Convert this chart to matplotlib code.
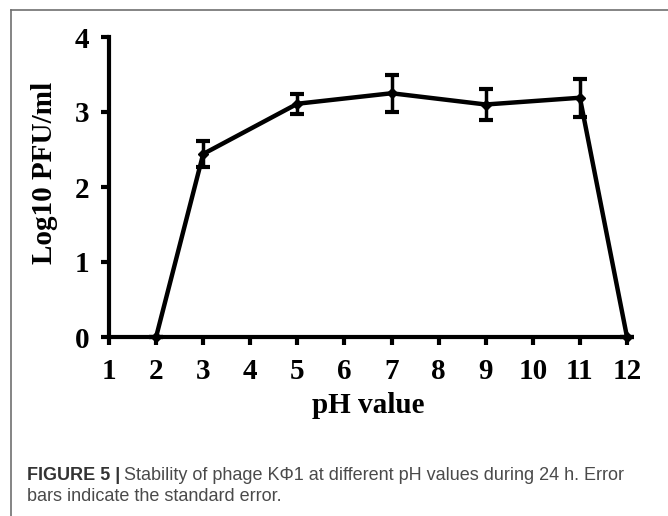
import matplotlib
matplotlib.use("Agg")
import matplotlib.pyplot as plt
from matplotlib.lines import Line2D

ph = [2, 3, 5, 7, 9, 11, 12]
log_pfu = [0.0, 2.44, 3.11, 3.25, 3.10, 3.19, 0.0]
err = [0.0, 0.17, 0.13, 0.25, 0.20, 0.25, 0.0]
xticks = list(range(1, 13))
yticks = [0, 1, 2, 3, 4]

W, H = 668, 516
fig = plt.figure(figsize=(W / 100, H / 100), dpi=100)

serif = "Liberation Serif"

ax = fig.add_axes([109 / W, 1 - 337 / H, (627 - 109) / W, (337 - 37) / H])
ax.errorbar(ph, log_pfu, yerr=err, color="black", lw=3.2, marker="D", ms=5,
            elinewidth=2.5, capsize=5, capthick=3, clip_on=False, zorder=3)
ax.set_xlim(1, 12)
ax.set_ylim(0, 4)
ax.set_xticks(xticks)
ax.set_yticks(yticks)
for s in ["top", "right"]:
    ax.spines[s].set_visible(False)
for s in ["left", "bottom"]:
    ax.spines[s].set_linewidth(3)
ax.tick_params(axis="both", width=3, length=6, direction="out")
ax.tick_params(axis="x", pad=9)
ax.tick_params(axis="y", pad=8)
for lab in ax.get_xticklabels() + ax.get_yticklabels():
    lab.set_fontfamily(serif)
    lab.set_fontweight("bold")
    lab.set_fontsize(21)

ax.set_xlabel("pH value", fontfamily=serif, fontweight="bold", fontsize=21)
ax.xaxis.set_label_coords(0.5, -(392 - 337) / 300)
ax.set_ylabel("Log10 PFU/ml", fontfamily=serif, fontweight="bold", fontsize=21)
ax.yaxis.set_label_coords(-(109 - 58) / 518, (337 - 173) / 300)

# frame
fig.add_artist(Line2D([11 / W, 11 / W], [0, 1 - 10 / H], transform=fig.transFigure,
                      color="#707070", lw=1.2))
fig.add_artist(Line2D([11 / W, 1], [1 - 10 / H, 1 - 10 / H], transform=fig.transFigure,
                      color="#707070", lw=1.2))

# caption
sans = "Liberation Sans"
t1 = fig.text(27 / W, 1 - 480 / H, "FIGURE 5 |", fontfamily=sans, fontweight="bold",
              fontsize=13, color="#333333", va="baseline")
fig.canvas.draw()
bb = t1.get_window_extent()
fig.text((bb.x1 + 4) / W, 1 - 480 / H,
         "Stability of phage K\u03a61 at different pH values during 24 h. Error",
         fontfamily=sans, fontsize=13, color="#4a4a4a", va="baseline")
fig.text(27 / W, 1 - 501 / H, "bars indicate the standard error.",
         fontfamily=sans, fontsize=13, color="#4a4a4a", va="baseline")

fig.savefig("out.png", dpi=100)
